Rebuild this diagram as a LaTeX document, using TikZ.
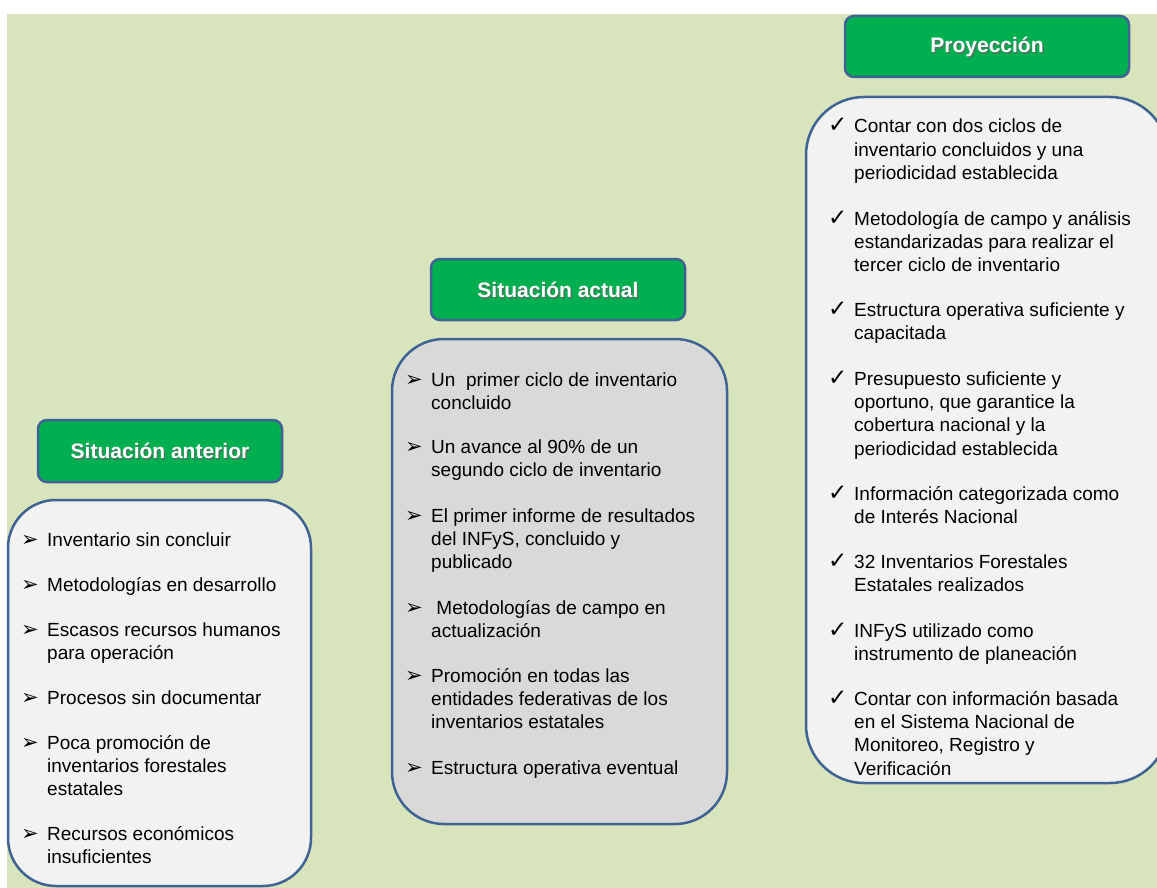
\documentclass[tikz,border=0pt]{standalone}
\usepackage{fontspec}
\setmainfont{Liberation Sans}
\newfontfamily\symfont{DejaVu Sans}
\definecolor{bgreen}{HTML}{D8E4BC}
\definecolor{hgreen}{HTML}{00B050}
\definecolor{bblue}{HTML}{3F6392}
\definecolor{boxwhite}{HTML}{F2F2F2}
\definecolor{boxgray}{HTML}{D9D9D9}
\newcommand\mylines[1]{\begin{tabular}[t]{@{}l@{}}#1\end{tabular}}
\tikzset{
  head/.style={draw=bblue, line width=2.5pt, fill=hgreen, rounded corners=9pt},
  listbox/.style={draw=bblue, line width=2.5pt},
  htext/.style={text=white, font=\fontsize{21}{25}\selectfont\bfseries, inner sep=0pt},
  hshadow/.style={text=black!60, opacity=0.7, font=\fontsize{21}{25}\selectfont\bfseries, inner sep=0pt},
  itemtext/.style={anchor=base west, inner sep=0pt, font=\fontsize{19}{23.4}\selectfont},
  arrowbullet/.style={anchor=base west, inner sep=0pt, font=\symfont\fontsize{21}{23}\selectfont},
  checkbullet/.style={anchor=base west, inner sep=0pt, font=\symfont\fontsize{23}{25}\selectfont}
}
\begin{document}
\begin{tikzpicture}[x=1pt,y=-1pt]
\useasboundingbox (0,0) rectangle (1157,888);
\clip (0,0) rectangle (1157,888);
\fill[bgreen] (7,14) rectangle (1157,888);

% ---------- Situación anterior ----------
\draw[head] (38,420) rectangle (282,482);
\node[hshadow] (h1s) at (161.5,452.5) {Situación anterior};
\node[htext] (h1) at (160,451) {Situación anterior};
\draw[listbox, fill=boxwhite, rounded corners=48pt] (8,500) rectangle (311,886);

\node[arrowbullet] (b11) at (21,546) {➢};
\node[itemtext] (t11) at (47,546) {\mylines{Inventario sin concluir}};
\node[arrowbullet] (b12) at (21,591) {➢};
\node[itemtext] (t12) at (47,591) {\mylines{Metodologías en desarrollo}};
\node[arrowbullet] (b13) at (21,636) {➢};
\node[itemtext] (t13) at (47,636) {\mylines{Escasos recursos humanos\\para operación}};
\node[arrowbullet] (b14) at (21,704) {➢};
\node[itemtext] (t14) at (47,704) {\mylines{Procesos sin documentar}};
\node[arrowbullet] (b15) at (21,749) {➢};
\node[itemtext] (t15) at (47,749) {\mylines{Poca promoción de\\inventarios forestales\\estatales}};
\node[arrowbullet] (b16) at (21,840) {➢};
\node[itemtext] (t16) at (47,840) {\mylines{Recursos económicos\\insuficientes}};

% ---------- Situación actual ----------
\draw[head] (431,259) rectangle (685,320);
\node[hshadow] (h2s) at (559.5,291.5) {Situación actual};
\node[htext] (h2) at (558,290) {Situación actual};
\draw[listbox, fill=boxgray, rounded corners=52pt] (392,339) rectangle (727,824);

\node[arrowbullet] (b21) at (405,386) {➢};
\node[itemtext] (t21) at (431,386) {\mylines{Un \ primer ciclo de inventario\\concluido}};
\node[arrowbullet] (b22) at (405,453) {➢};
\node[itemtext] (t22) at (431,453) {\mylines{Un avance al 90\% de un\\segundo ciclo de inventario}};
\node[arrowbullet] (b23) at (405,522) {➢};
\node[itemtext] (t23) at (431,522) {\mylines{El primer informe de resultados\\del INFyS, concluido y\\publicado}};
\node[arrowbullet] (b24) at (405,614) {➢};
\node[itemtext] (t24) at (431,614) {\mylines{\ Metodologías de campo en\\actualización}};
\node[arrowbullet] (b25) at (405,682) {➢};
\node[itemtext] (t25) at (431,682) {\mylines{Promoción en todas las\\entidades federativas de los\\inventarios estatales}};
\node[arrowbullet] (b26) at (405,774) {➢};
\node[itemtext] (t26) at (431,774) {\mylines{Estructura operativa eventual}};

% ---------- Proyección ----------
\draw[head] (845,16) rectangle (1129,77);
\node[hshadow] (h3s) at (988.5,48.5) {Proyección};
\node[htext] (h3) at (987,47) {Proyección};
\draw[listbox, fill=boxwhite, rounded corners=58pt] (806,97) rectangle (1168,783);

\node[checkbullet] (b31) at (828,133) {✓};
\node[itemtext] (t31) at (854,133) {\mylines{Contar con dos ciclos de\\inventario concluidos y una\\periodicidad establecida}};
\node[checkbullet] (b32) at (828,225) {✓};
\node[itemtext] (t32) at (854,225) {\mylines{Metodología de campo y análisis\\estandarizadas para realizar el\\tercer ciclo de inventario}};
\node[checkbullet] (b33) at (828,316) {✓};
\node[itemtext] (t33) at (854,316) {\mylines{Estructura operativa suficiente y\\capacitada}};
\node[checkbullet] (b34) at (828,385) {✓};
\node[itemtext] (t34) at (854,385) {\mylines{Presupuesto suficiente y\\oportuno, que garantice la\\cobertura nacional y la\\periodicidad establecida}};
\node[checkbullet] (b35) at (828,500) {✓};
\node[itemtext] (t35) at (854,500) {\mylines{Información categorizada como\\de Interés Nacional}};
\node[checkbullet] (b36) at (828,568) {✓};
\node[itemtext] (t36) at (854,568) {\mylines{32 Inventarios Forestales\\Estatales realizados}};
\node[checkbullet] (b37) at (828,637) {✓};
\node[itemtext] (t37) at (854,637) {\mylines{INFyS utilizado como\\instrumento de planeación}};
\node[checkbullet] (b38) at (828,705) {✓};
\node[itemtext] (t38) at (854,705) {\mylines{Contar con información basada\\en el Sistema Nacional de\\Monitoreo, Registro y\\Verificación}};
\end{tikzpicture}
\end{document}
